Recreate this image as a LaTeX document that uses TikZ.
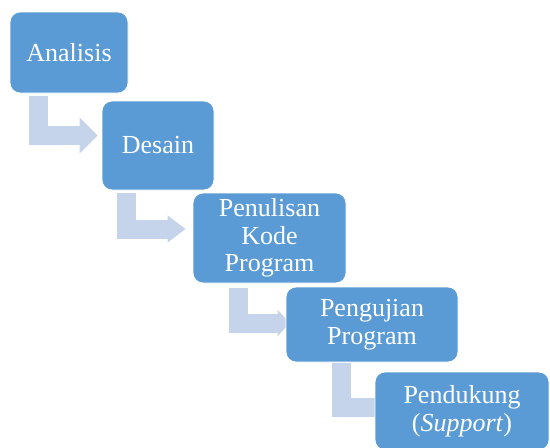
\documentclass[tikz,border=0pt]{standalone}
\usepackage{fontspec}
\setmainfont{Liberation Serif}
\newfontfamily\stagefont{Liberation Serif}
\usetikzlibrary{arrows.meta,backgrounds}
\definecolor{stageblue}{RGB}{91,155,213}
\definecolor{flowblue}{RGB}{197,212,234}
\tikzset{
	stage/.style={rectangle, rounded corners=10pt, fill=stageblue, draw=white,
		line width=0.8pt, text=white, align=center, inner sep=0pt,
		font=\stagefont\fontsize{26}{27.5}\selectfont},
	flow/.style={draw=flowblue, line width=19pt, line join=miter},
}
\begin{document}
\begin{tikzpicture}[x=1pt,y=-1pt]
	\useasboundingbox (0,0) rectangle (550,448);
	% stages
	\node[stage, minimum width=118pt, minimum height=81pt] (ana) at (69,52.5) {Analisis};
	\node[stage, minimum width=112pt, minimum height=89pt] (des) at (158,145.5) {Desain};
	\node[stage, minimum width=153pt, minimum height=90pt] (pen) at (269.5,238) {Penulisan\\Kode\\Program};
	\node[stage, minimum width=172pt, minimum height=75pt] (uji) at (372,324.5) {Pengujian\\Program};
	\node[stage, minimum width=174pt, minimum height=78pt] (duk) at (462,411) {Pendukung\\(\textit{Support})};
	% bent arrows behind the stages
	\begin{scope}[on background layer]
		\draw[flow, -{Triangle[length=18pt,width=35pt]}]
			([xshift=29pt,yshift=-3pt]ana.south west) |- ([xshift=-4pt,yshift=10pt]des.west);
		\draw[flow, -{Triangle[length=18pt,width=26pt]}]
			([xshift=25pt,yshift=-3pt]des.south west) |- ([xshift=-7pt,yshift=9pt]pen.west);
		\draw[flow, -{Triangle[length=12pt,width=26pt]}]
			([xshift=46pt,yshift=-5pt]pen.south west) |- ([xshift=4pt,yshift=1.5pt]uji.west);
		\draw[flow, -{Triangle[length=8pt,width=22pt]}]
			([xshift=56pt,yshift=-1pt]uji.south west) |- ([xshift=8pt,yshift=4pt]duk.west);
	\end{scope}
\end{tikzpicture}
\end{document}
